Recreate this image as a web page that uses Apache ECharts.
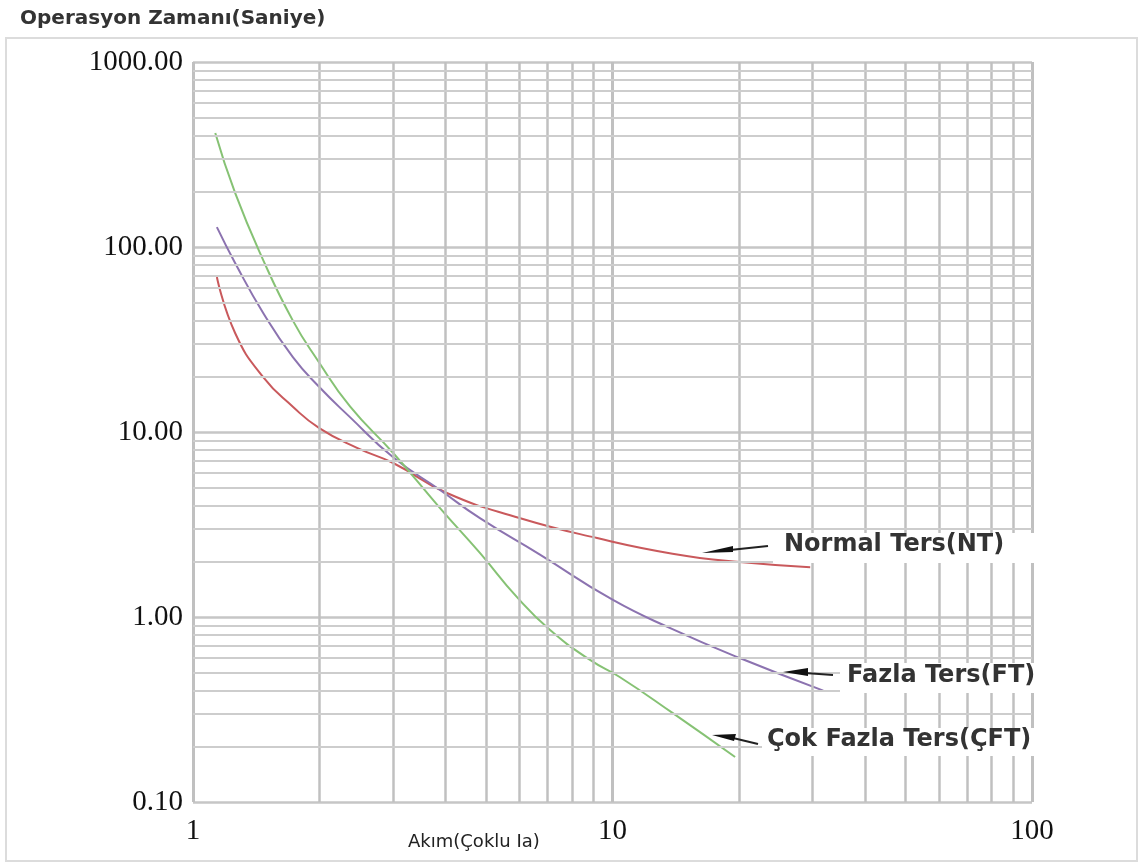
<!DOCTYPE html>
<html>
<head>
<meta charset="utf-8">
<title>Operasyon Zamanı</title>
<script src="https://cdn.jsdelivr.net/npm/echarts@6/dist/echarts.min.js"></script>
<style>
  html, body { margin: 0; padding: 0; background: #fff; }
  #main { width: 1142px; height: 866px; }
</style>
</head>
<body>
<div id="main"></div>
<script>
// current multiple (x) and operating time in seconds (y)
var ntX  = [1.14, 1.26, 1.47, 1.73, 2.0, 2.46, 3.0, 4.03, 6.0, 9.19, 13.9, 20.1, 29.6];
var ntY  = [68.8, 34.3, 19.8, 13.7, 10.5, 8.2, 6.8, 4.68, 3.43, 2.67, 2.2, 1.98, 1.86];
var ftX  = [1.14, 1.26, 1.47, 1.73, 2.0, 2.37, 3.0, 3.88, 4.83, 6.7, 10.0, 13.9, 20.1, 31.8];
var ftY  = [128, 82, 44, 25.4, 17.5, 12.0, 7.3, 4.86, 3.42, 2.18, 1.24, 0.86, 0.60, 0.40];
var cftX = [1.13, 1.26, 1.47, 1.73, 1.98, 2.37, 3.0, 3.88, 4.83, 5.92, 7.10, 8.84, 10.4, 13.9, 19.6];
var cftY = [413, 196, 85, 40, 24.5, 13.7, 7.7, 3.88, 2.22, 1.28, 0.85, 0.586, 0.474, 0.303, 0.175];

var seriesNames = ['Normal Ters(NT)', 'Fazla Ters(FT)', 'Çok Fazla Ters(ÇFT)'];
var seriesColors = ['#c9595c', '#8c73b0', '#86c274'];

// log-paper minor lines
var minorSteps = [2, 3, 4, 5, 6, 7, 8, 9];
var xDecades = [1, 10];
var yDecades = [0.1, 1, 10, 100];

function pairs(xs, ys) {
    var out = [];
    for (var i = 0; i < xs.length; i++) out.push([xs[i], ys[i]]);
    return out;
}

var gridLines = [];
xDecades.forEach(function (d) {
    minorSteps.forEach(function (m) { gridLines.push({xAxis: d * m}); });
});
yDecades.forEach(function (d) {
    minorSteps.forEach(function (m) {
        gridLines.push({yAxis: +(d * m).toPrecision(3), lineStyle: {color: '#cdcdcd', width: 2}});
    });
});

var labelFont = 'bold 24px "DejaVu Sans"';

var myChart = echarts.init(document.getElementById('main'));
var option = {
    backgroundColor: '#fff',
    animation: false,
    grid: { left: 193, right: 110, top: 62, bottom: 64 },
    xAxis: {
        type: 'log', min: 1, max: 100, logBase: 10,
        axisLine: {show: false}, axisTick: {show: false},
        splitLine: {show: true, lineStyle: {color: '#c0c0c0', width: 3}},
        axisLabel: {
            margin: 15, color: '#111',
            fontFamily: 'Liberation Serif', fontSize: 29,
            formatter: function (v) { return String(Math.round(v)); }
        }
    },
    yAxis: {
        type: 'log', min: 0.1, max: 1000, logBase: 10,
        axisLine: {show: false}, axisTick: {show: false},
        splitLine: {show: true, lineStyle: {color: '#c6c6c6', width: 2.5}},
        axisLabel: {
            margin: 10, color: '#111',
            fontFamily: 'Liberation Serif', fontSize: 29,
            formatter: function (v) { return v.toFixed(2); }
        }
    },
    series: [
        {
            name: 'grid', type: 'line', data: [], z: 1, silent: true,
            markLine: {
                silent: true, symbol: ['none', 'none'], label: {show: false},
                lineStyle: {color: '#c0c0c0', width: 2.5, type: 'solid'},
                data: gridLines
            }
        },
        { name: seriesNames[0], type: 'line', smooth: true, showSymbol: false, z: 3,
          lineStyle: {color: seriesColors[0], width: 2}, data: pairs(ntX, ntY) },
        { name: seriesNames[1], type: 'line', smooth: true, showSymbol: false, z: 3,
          lineStyle: {color: seriesColors[1], width: 2}, data: pairs(ftX, ftY) },
        { name: seriesNames[2], type: 'line', smooth: true, showSymbol: false, z: 3,
          lineStyle: {color: seriesColors[2], width: 2}, data: pairs(cftX, cftY) }
    ],
    graphic: [
        { type: 'rect', z: 0, shape: {x: 6, y: 38, width: 1131, height: 823},
          style: {fill: 'none', stroke: '#dcdcdc', lineWidth: 2} },
        { type: 'text', left: 20, top: 9,
          style: {text: 'Operasyon Zamanı(Saniye)', fill: '#333', font: 'bold 20px "DejaVu Sans"'} },
        { type: 'text', left: 408, top: 833,
          style: {text: 'Akım(Çoklu Ia)', fill: '#222', font: '18px "DejaVu Sans"'} },

        // label boxes
        { type: 'rect', z: 10, shape: {x: 773, y: 533, width: 300, height: 30}, style: {fill: '#fff'} },
        { type: 'rect', z: 10, shape: {x: 840, y: 663, width: 235, height: 30}, style: {fill: '#fff'} },
        { type: 'rect', z: 10, shape: {x: 762, y: 728, width: 313, height: 28}, style: {fill: '#fff'} },
        { type: 'text', z: 11, left: 784, top: 533, style: {text: seriesNames[0], fill: '#333', font: labelFont} },
        { type: 'text', z: 11, left: 847, top: 664, style: {text: seriesNames[1], fill: '#333', font: labelFont} },
        { type: 'text', z: 11, left: 767, top: 728, style: {text: seriesNames[2], fill: '#333', font: labelFont} },

        // arrows
        { type: 'polyline', z: 11, shape: {points: [[730, 550], [768, 546]]}, style: {stroke: '#222', lineWidth: 2} },
        { type: 'polygon', z: 11, shape: {points: [[702, 553], [733, 546], [733, 552]]}, style: {fill: '#111'} },
        { type: 'polyline', z: 11, shape: {points: [[805, 673], [833, 675]]}, style: {stroke: '#222', lineWidth: 2} },
        { type: 'polygon', z: 11, shape: {points: [[783, 672], [808, 668], [808, 676]]}, style: {fill: '#111'} },
        { type: 'polyline', z: 11, shape: {points: [[733, 738], [758, 744]]}, style: {stroke: '#222', lineWidth: 2} },
        { type: 'polygon', z: 11, shape: {points: [[712, 735], [736, 734], [734, 741]]}, style: {fill: '#111'} }
    ]
};
myChart.setOption(option);
</script>
</body>
</html>
